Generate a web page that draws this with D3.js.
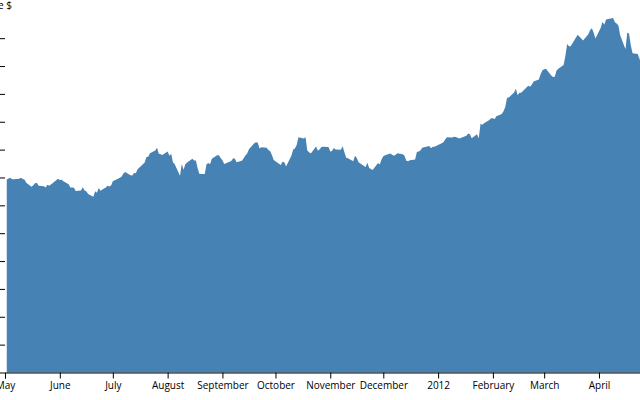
<!DOCTYPE html>
<html>
<head>
<meta charset="utf-8">
<style>
  body { margin: 0; background: #fff; }
  svg { display: block; font-family: 'Open Sans', sans-serif; }
</style>
</head>
<body>
<div id="chart"></div>
<script src="https://cdn.jsdelivr.net/npm/d3@7"></script>
<script>
// daily close, May 2011 - May 2012
let dates = [
  '2011-05-02', '2011-05-03', '2011-05-04', '2011-05-05', '2011-05-06', '2011-05-09', '2011-05-10', '2011-05-11', '2011-05-12', '2011-05-13',
  '2011-05-16', '2011-05-17', '2011-05-18', '2011-05-19', '2011-05-20', '2011-05-23', '2011-05-24', '2011-05-25', '2011-05-26', '2011-05-27',
  '2011-05-31', '2011-06-01', '2011-06-02', '2011-06-03', '2011-06-06', '2011-06-07', '2011-06-08', '2011-06-09', '2011-06-10', '2011-06-13',
  '2011-06-14', '2011-06-15', '2011-06-16', '2011-06-17', '2011-06-20', '2011-06-21', '2011-06-22', '2011-06-23', '2011-06-24', '2011-06-27',
  '2011-06-28', '2011-06-29', '2011-06-30', '2011-07-01', '2011-07-05', '2011-07-06', '2011-07-07', '2011-07-08', '2011-07-11', '2011-07-12',
  '2011-07-13', '2011-07-14', '2011-07-15', '2011-07-18', '2011-07-19', '2011-07-20', '2011-07-21', '2011-07-22', '2011-07-25', '2011-07-26',
  '2011-07-27', '2011-07-28', '2011-07-29', '2011-08-01', '2011-08-02', '2011-08-03', '2011-08-04', '2011-08-05', '2011-08-08', '2011-08-09',
  '2011-08-10', '2011-08-11', '2011-08-12', '2011-08-15', '2011-08-16', '2011-08-17', '2011-08-18', '2011-08-19', '2011-08-22', '2011-08-23',
  '2011-08-24', '2011-08-25', '2011-08-26', '2011-08-29', '2011-08-30', '2011-08-31', '2011-09-01', '2011-09-02', '2011-09-06', '2011-09-07',
  '2011-09-08', '2011-09-09', '2011-09-12', '2011-09-13', '2011-09-14', '2011-09-15', '2011-09-16', '2011-09-19', '2011-09-20', '2011-09-21',
  '2011-09-22', '2011-09-23', '2011-09-26', '2011-09-27', '2011-09-28', '2011-09-29', '2011-09-30', '2011-10-03', '2011-10-04', '2011-10-05',
  '2011-10-06', '2011-10-07', '2011-10-10', '2011-10-11', '2011-10-12', '2011-10-13', '2011-10-14', '2011-10-17', '2011-10-18', '2011-10-19',
  '2011-10-20', '2011-10-21', '2011-10-24', '2011-10-25', '2011-10-26', '2011-10-27', '2011-10-28', '2011-10-31', '2011-11-01', '2011-11-02',
  '2011-11-03', '2011-11-04', '2011-11-07', '2011-11-08', '2011-11-09', '2011-11-10', '2011-11-11', '2011-11-14', '2011-11-15', '2011-11-16',
  '2011-11-17', '2011-11-18', '2011-11-21', '2011-11-22', '2011-11-23', '2011-11-25', '2011-11-28', '2011-11-29', '2011-11-30', '2011-12-01',
  '2011-12-02', '2011-12-05', '2011-12-06', '2011-12-07', '2011-12-08', '2011-12-09', '2011-12-12', '2011-12-13', '2011-12-14', '2011-12-15',
  '2011-12-16', '2011-12-19', '2011-12-20', '2011-12-21', '2011-12-22', '2011-12-23', '2011-12-27', '2011-12-28', '2011-12-29', '2011-12-30',
  '2012-01-03', '2012-01-04', '2012-01-05', '2012-01-06', '2012-01-09', '2012-01-10', '2012-01-11', '2012-01-12', '2012-01-13', '2012-01-17',
  '2012-01-18', '2012-01-19', '2012-01-20', '2012-01-23', '2012-01-24', '2012-01-25', '2012-01-26', '2012-01-27', '2012-01-30', '2012-01-31',
  '2012-02-01', '2012-02-02', '2012-02-03', '2012-02-06', '2012-02-07', '2012-02-08', '2012-02-09', '2012-02-10', '2012-02-13', '2012-02-14',
  '2012-02-15', '2012-02-16', '2012-02-17', '2012-02-21', '2012-02-22', '2012-02-23', '2012-02-24', '2012-02-27', '2012-02-28', '2012-02-29',
  '2012-03-01', '2012-03-02', '2012-03-05', '2012-03-06', '2012-03-07', '2012-03-08', '2012-03-09', '2012-03-12', '2012-03-13', '2012-03-14',
  '2012-03-15', '2012-03-16', '2012-03-19', '2012-03-20', '2012-03-21', '2012-03-22', '2012-03-23', '2012-03-26', '2012-03-27', '2012-03-28',
  '2012-03-29', '2012-03-30', '2012-04-02', '2012-04-03', '2012-04-04', '2012-04-05', '2012-04-09', '2012-04-10', '2012-04-11', '2012-04-12',
  '2012-04-13', '2012-04-16', '2012-04-17', '2012-04-18', '2012-04-19', '2012-04-20', '2012-04-23', '2012-04-24', '2012-04-25', '2012-04-26',
  '2012-04-27', '2012-04-30', '2012-05-01'
]

let closes = [
  346.28, 348.20, 349.57, 346.75, 346.66, 347.60, 349.45, 347.23, 346.57, 340.50,
  333.30, 336.14, 339.87, 340.53, 335.22, 334.40, 332.19, 336.78, 335.00, 337.41,
  347.83, 345.51, 346.10, 343.44, 338.04, 332.04, 332.24, 331.49, 325.90, 326.60,
  332.44, 326.75, 325.16, 320.26, 315.32, 325.30, 322.61, 331.23, 326.35, 332.04,
  335.26, 334.04, 335.67, 343.26, 349.43, 351.76, 357.20, 359.71, 354.00, 353.75,
  358.02, 357.77, 364.92, 373.80, 376.85, 386.90, 387.29, 393.30, 398.50, 403.41,
  392.59, 391.82, 390.48, 396.75, 388.91, 392.57, 377.37, 373.62, 353.21, 374.01,
  363.69, 373.70, 376.99, 383.41, 380.48, 380.44, 366.05, 356.03, 356.44, 373.60,
  376.18, 373.72, 383.58, 389.97, 389.99, 384.83, 381.03, 374.05, 379.74, 383.93,
  384.14, 377.48, 379.94, 384.62, 389.30, 392.96, 400.50, 411.63, 413.45, 412.14,
  401.82, 404.30, 403.17, 399.26, 397.01, 390.57, 381.32, 374.60, 372.50, 378.25,
  377.37, 369.80, 388.81, 400.29, 402.19, 408.43, 422.00, 419.99, 422.24, 398.62,
  395.31, 392.87, 405.77, 397.77, 400.60, 404.69, 404.95, 404.78, 396.51, 397.41,
  403.07, 400.24, 399.73, 406.23, 395.28, 385.22, 384.62, 379.26, 388.83, 384.77,
  377.41, 374.94, 369.01, 376.51, 366.99, 363.57, 376.12, 373.20, 382.20, 387.93,
  389.70, 393.01, 390.95, 389.09, 390.66, 393.62, 391.84, 388.81, 380.19, 378.94,
  381.02, 382.21, 395.95, 396.44, 398.55, 403.33, 406.53, 402.64, 405.12, 405.00,
  411.23, 413.44, 418.03, 422.40, 421.73, 423.24, 422.55, 421.39, 419.81, 424.70,
  429.11, 427.75, 420.30, 427.41, 420.41, 446.66, 444.63, 447.28, 453.01, 456.48,
  456.19, 455.12, 459.68, 463.97, 468.83, 476.68, 493.17, 493.42, 502.60, 509.46,
  497.67, 502.21, 502.12, 514.85, 513.04, 516.39, 522.41, 525.76, 535.41, 542.44,
  544.47, 545.18, 533.16, 530.26, 530.69, 541.99, 545.17, 552.00, 568.10, 589.58,
  585.56, 585.57, 601.10, 605.96, 602.50, 599.34, 596.05, 606.98, 614.48, 617.62,
  609.86, 599.55, 618.63, 629.32, 624.31, 633.68, 636.23, 628.44, 626.20, 622.77,
  605.23, 580.13, 609.70, 608.34, 587.44, 572.98, 571.70, 560.28, 610.00, 607.70,
  603.00, 583.98, 582.13
]

let yLabel = 'Price $'

let width = 640
let height = 400

let parseDate = d3.timeParse('%Y-%m-%d')

let data = dates.map((d, i) => ({ date: parseDate(d), close: closes[i] }))

let svg = d3
  .select('#chart')
  .append('svg')
  .attr('width', width)
  .attr('height', height)

// scales (the plot runs a little past the right edge)

let x = d3
  .scaleTime()
  .domain([new Date(2011, 4, 1), new Date(2012, 4, 1)])
  .range([5, 652])

let y = d3
  .scaleLinear()
  .domain([0, d3.max(data, d => d.close)])
  .range([372.5, 18])

let area = d3
  .area()
  .x(d => x(d.date))
  .y0(y(0))
  .y1(d => y(d.close))

svg
  .append('path')
  .datum(data)
  .attr('class', 'area')
  .attr('fill', 'steelblue')
  .attr('d', area)

// axes

svg
  .append('g')
  .attr('transform', `translate(0,${y(0)})`)
  .call(d3.axisBottom(x).ticks(d3.timeMonth.every(1)))
  .call(g => g.selectAll('text').attr('font-size', 10).attr('font-family', 'Open Sans'))

svg
  .append('g')
  .attr('transform', 'translate(5,0)')
  .call(d3.axisLeft(y).ticks(12))
  .call(g => g.select('.domain').remove())
  .call(g => g.selectAll('text').attr('font-size', 10).attr('font-family', 'Open Sans'))

svg
  .append('text')
  .attr('x', 12)
  .attr('y', 9)
  .attr('text-anchor', 'end')
  .attr('font-size', 10)
  .attr('fill', 'black')
  .text(yLabel)
</script>
</body>
</html>
